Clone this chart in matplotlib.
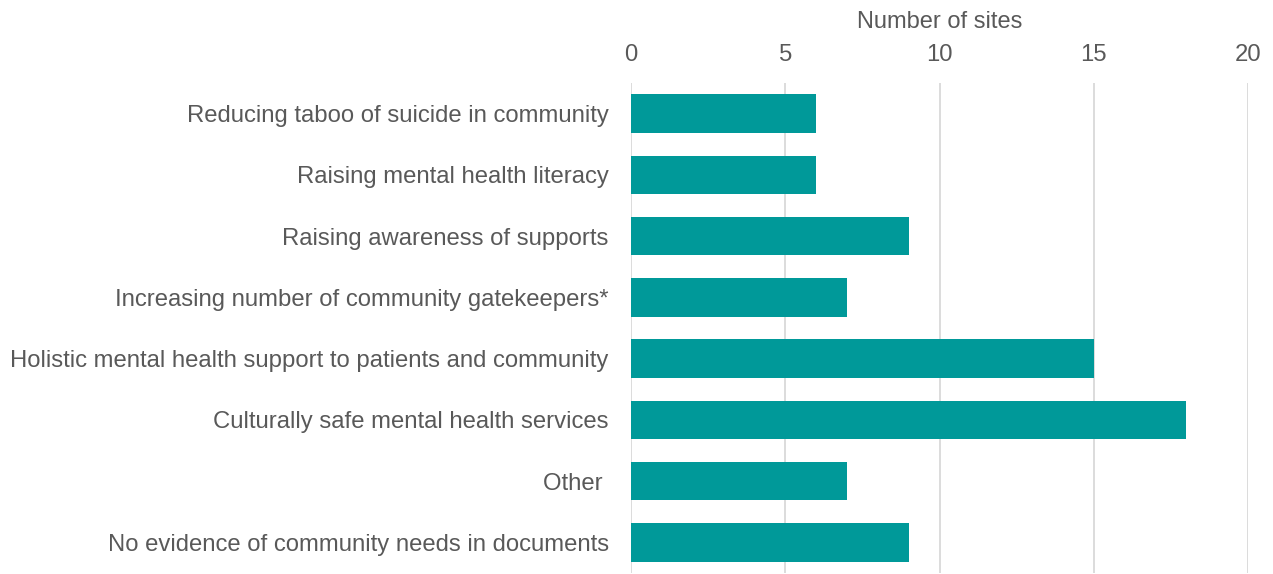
import matplotlib.pyplot as plt

categories = [
    "Reducing taboo of suicide in community",
    "Raising mental health literacy",
    "Raising awareness of supports",
    "Increasing number of community gatekeepers*",
    "Holistic mental health support to patients and community",
    "Culturally safe mental health services",
    "Other ",
    "No evidence of community needs in documents",
]
sites = [6, 6, 9, 7, 15, 18, 7, 9]
xticks = [0, 5, 10, 15, 20]

plt.rcParams['font.family'] = ['Liberation Sans', 'DejaVu Sans']
text_color = '#595959'
bar_color = '#009999'
grid_color = '#d9d9d9'

fig = plt.figure(figsize=(12.73, 5.74), dpi=100)
ax = fig.add_axes([631 / 1273, 1 - 573 / 574, (1248 - 631) / 1273, (573 - 83) / 574])

ypos = list(range(len(categories)))
ax.barh(ypos, sites, height=0.63, color=bar_color, zorder=3)

ax.set_xlim(0, 20)
ax.set_ylim(len(categories) - 0.5, -0.5)
ax.set_xticks(xticks)
ax.set_yticks(ypos)
ax.set_yticklabels(categories)

ax.xaxis.tick_top()
ax.xaxis.set_label_position('top')
ax.set_xlabel("Number of sites", fontsize=17, color=text_color, labelpad=12)

ax.tick_params(axis='x', length=0, labelsize=17.2, labelcolor=text_color, pad=12)
ax.tick_params(axis='y', length=0, labelsize=17.2, labelcolor=text_color, pad=16)

for s in ax.spines.values():
    s.set_visible(False)
ax.grid(axis='x', color=grid_color, linewidth=1.3, zorder=0)
ax.set_axisbelow(True)

fig.savefig("out.png", dpi=100)
